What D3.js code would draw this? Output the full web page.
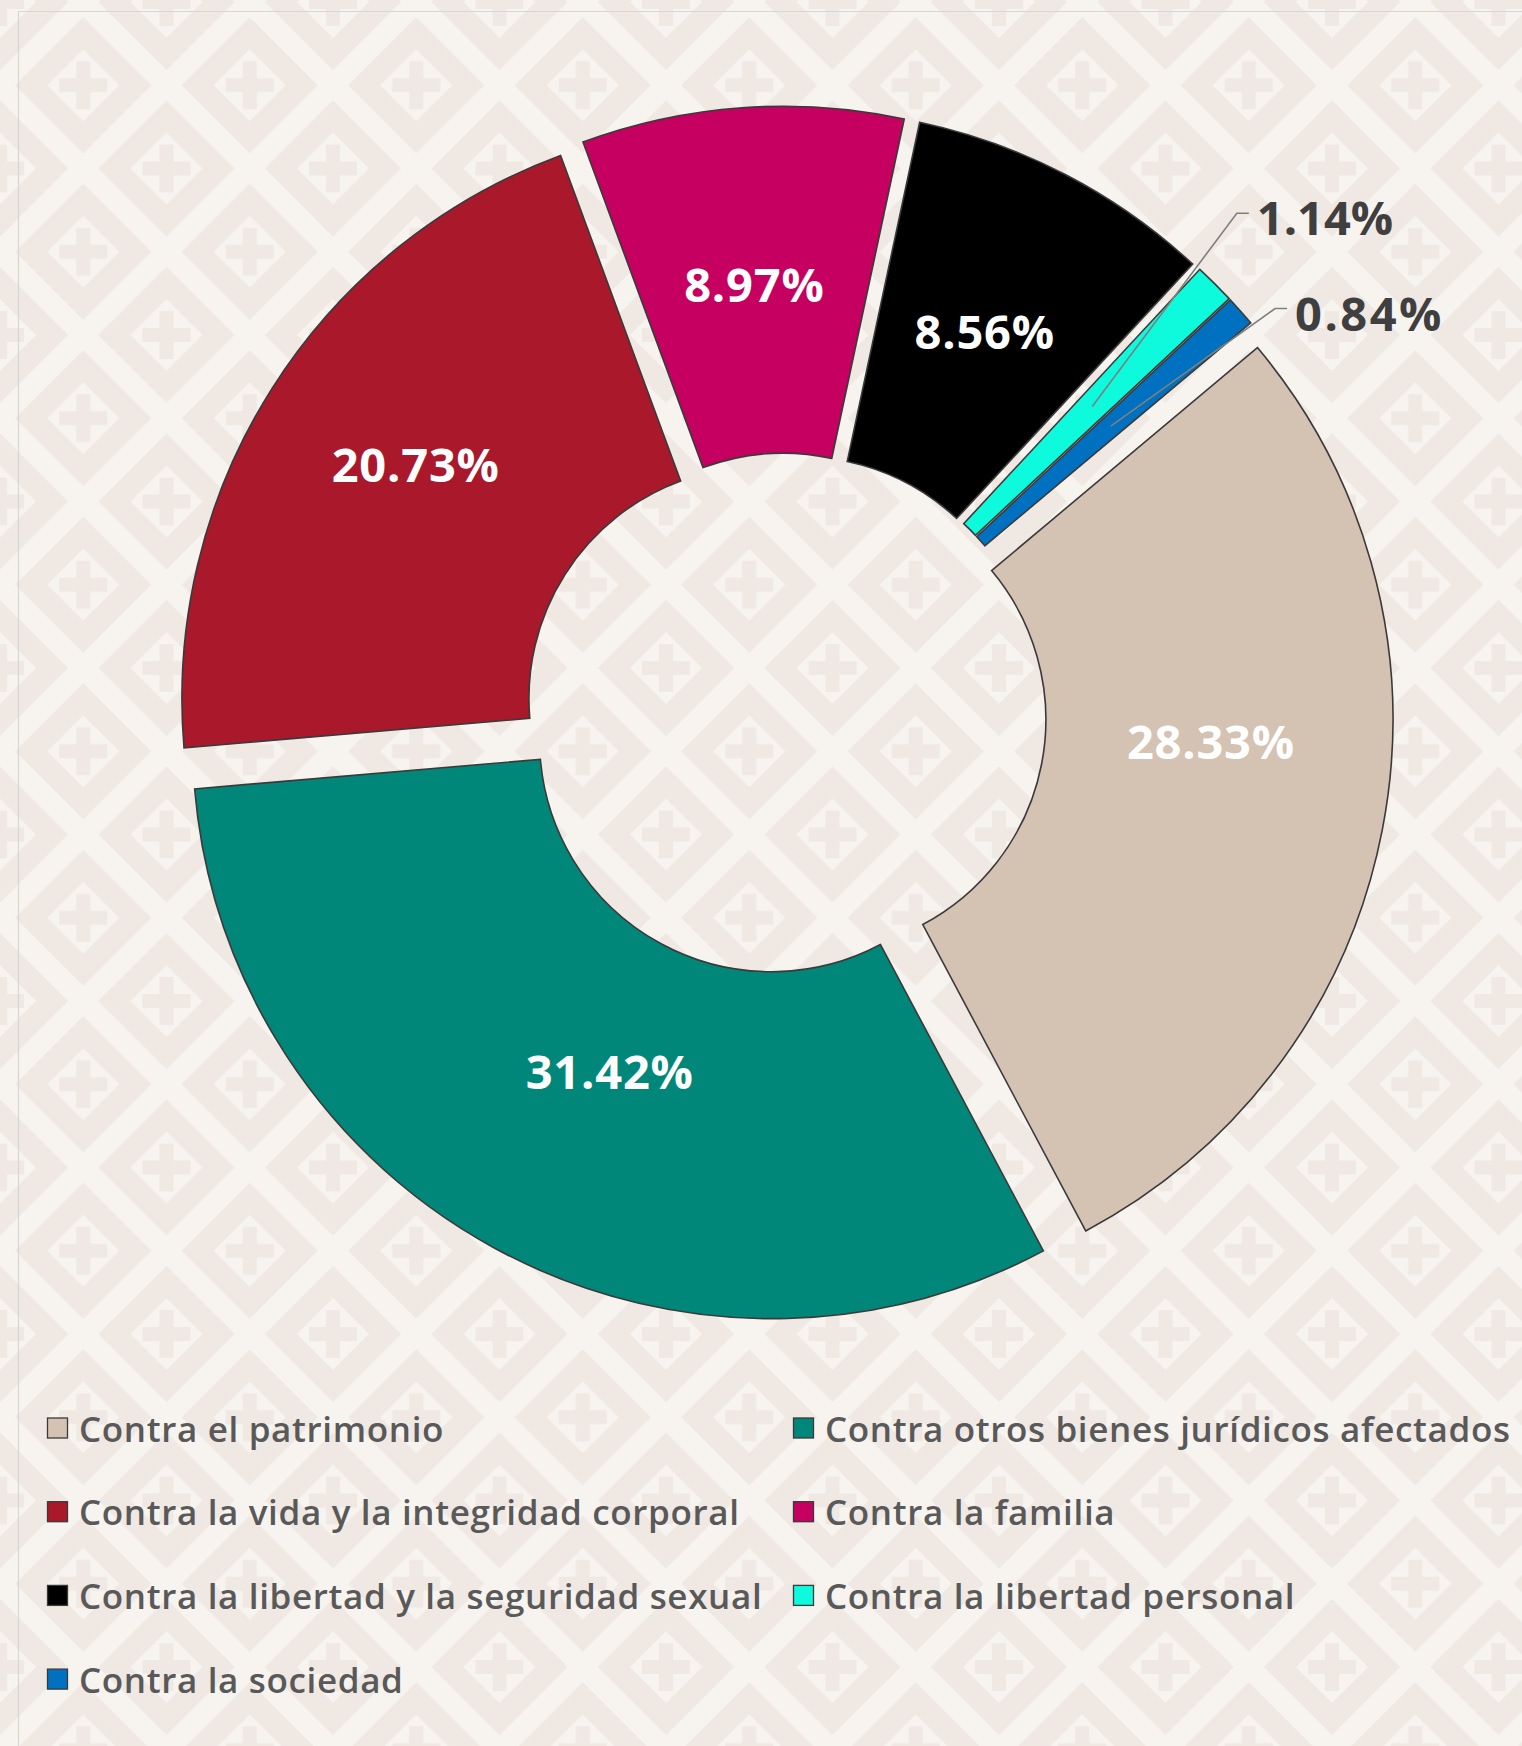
<!DOCTYPE html>
<html>
<head>
<meta charset="utf-8">
<script src="https://cdn.jsdelivr.net/npm/d3@7"></script>
<style>
  html, body { margin: 0; padding: 0; background: #F7F4F0; }
  svg { display: block; }
</style>
</head>
<body>
<script>
// ---- data ----
const categories = [
  "Contra el patrimonio",
  "Contra otros bienes jurídicos afectados",
  "Contra la vida y la integridad corporal",
  "Contra la familia",
  "Contra la libertad y la seguridad sexual",
  "Contra la libertad personal",
  "Contra la sociedad"
];
const values = [28.33, 31.42, 20.73, 8.97, 8.56, 1.14, 0.84];
const colors = ["#D4C2B3", "#00877A", "#AA182C", "#C60061", "#000000", "#0DFADD", "#0070C0"];

// ---- layout ----
const W = 1522, H = 1746;
const cx = 785.4, cy = 714.2;
const R = 579, r = 232, explode = 29;
const startDeg = 50;
const labelFam = "'Open Sans', Lato, sans-serif";
const legendFam = "'Open Sans', Lato, sans-serif";

const svg = d3.select("body").append("svg").attr("width", W).attr("height", H);

// background pattern
const P = 166.5;
const defs = svg.append("defs");
const pat = defs.append("pattern").attr("id", "bg").attr("patternUnits", "userSpaceOnUse")
  .attr("x", 0).attr("y", 2).attr("width", P).attr("height", P);
pat.append("rect").attr("width", P).attr("height", P).attr("fill", "#F7F4F0");
const dark = "#EFE8E3";
function diamond(g, x, y) {
  const ro = 68, ri = 36, al = 24, at = 7;
  g.append("path")
    .attr("d", `M${x},${y-ro}L${x+ro},${y}L${x},${y+ro}L${x-ro},${y}Z M${x},${y-ri}L${x-ri},${y}L${x},${y+ri}L${x+ri},${y}Z`)
    .attr("fill", dark).attr("fill-rule", "evenodd");
  g.append("path")
    .attr("d", `M${x-al},${y-at}H${x-at}V${y-al}H${x+at}V${y-at}H${x+al}V${y+at}H${x+at}V${y+al}H${x-at}V${y+at}H${x-al}Z`)
    .attr("fill", dark);
}
[[0,0],[P,0],[0,P],[P,P],[P/2,P/2]].forEach(([x,y]) => diamond(pat, x, y));
svg.append("rect").attr("width", W).attr("height", H).attr("fill", "url(#bg)");

// frame line
svg.append("path").attr("d", `M18.5,${H}V11.5H${W}`).attr("fill", "none")
  .attr("stroke", "#D6D6D6").attr("stroke-width", 1.2);

// ---- donut ----
const pie = d3.pie().sort(null)
  .startAngle(startDeg * Math.PI / 180)
  .endAngle(startDeg * Math.PI / 180 + 2 * Math.PI);
const arcs = pie(values);
const arc = d3.arc().innerRadius(r).outerRadius(R);
const mid = d => (d.startAngle + d.endAngle) / 2;
const off = (d, k) => [Math.sin(mid(d)) * k, -Math.cos(mid(d)) * k];

const g = svg.append("g").attr("transform", `translate(${cx},${cy})`);
g.selectAll("path.slice").data(arcs).join("path")
  .attr("class", "slice")
  .attr("d", arc)
  .attr("transform", d => `translate(${off(d, explode)})`)
  .attr("fill", (d, i) => colors[i])
  .attr("stroke", "#3A3A3A").attr("stroke-width", 1.6).attr("stroke-linejoin", "miter");

// inside labels
const fmt = v => v.toFixed(2) + "%";
const labelNudge = [[-1, -56], [32, -25], [-3, -17], [0, 3], [-1, 2]];
const labelFont = 47;
arcs.forEach((d, i) => {
  const c = arc.centroid(d);
  const o = off(d, explode);
  if (i < 5) {
    g.append("text")
      .attr("x", c[0] + o[0] + labelNudge[i][0])
      .attr("y", c[1] + o[1] + labelNudge[i][1])
      .attr("text-anchor", "middle").attr("dominant-baseline", "central")
      .attr("font-family", labelFam).attr("font-weight", 700).attr("font-size", labelFont)
      .attr("letter-spacing", 0.8)
      .attr("fill", "#FFFFFF").text(fmt(values[i]));
  }
});

// outside labels with leader lines
const elbowOffsets = { 5: [144.6, -193.3], 6: [164.3, -117.7] };
Object.keys(elbowOffsets).forEach(k => {
  const i = +k, d = arcs[i];
  const c = arc.centroid(d), o = off(d, explode);
  const p0 = [c[0] + o[0], c[1] + o[1]];
  const p1 = [p0[0] + elbowOffsets[k][0], p0[1] + elbowOffsets[k][1]];
  const p2 = [p1[0] + 12, p1[1]];
  g.append("path").attr("d", `M${p0}L${p1}L${p2}`).attr("fill", "none")
    .attr("stroke", "#7F7F7F").attr("stroke-width", 1.6);
  g.append("text").attr("x", p2[0] + 8).attr("y", p2[1] + 4)
    .attr("dominant-baseline", "central")
    .attr("font-family", labelFam).attr("font-weight", 700).attr("font-size", labelFont)
    .attr("letter-spacing", i === 6 ? 2.5 : 0)
    .attr("fill", "#3F3F3F").text(fmt(values[i]));
});

// ---- legend ----
const legX = [47, 793], legY0 = 1428, legDy = 83.7;
const leg = svg.append("g");
categories.forEach((name, i) => {
  const col = i % 2, row = Math.floor(i / 2);
  const x = legX[col], y = legY0 + row * legDy;
  leg.append("rect").attr("x", x + 0.5).attr("y", y - 10).attr("width", 20).attr("height", 20)
    .attr("fill", colors[i]).attr("stroke", "#3A3A3A").attr("stroke-width", 1.3);
  leg.append("text").attr("x", x + 32).attr("y", y)
    .attr("dominant-baseline", "central")
    .attr("font-family", legendFam).attr("font-weight", 600).attr("font-size", 35)
    .attr("letter-spacing", 0.65)
    .attr("fill", "#595959").text(name);
});
</script>
</body>
</html>
